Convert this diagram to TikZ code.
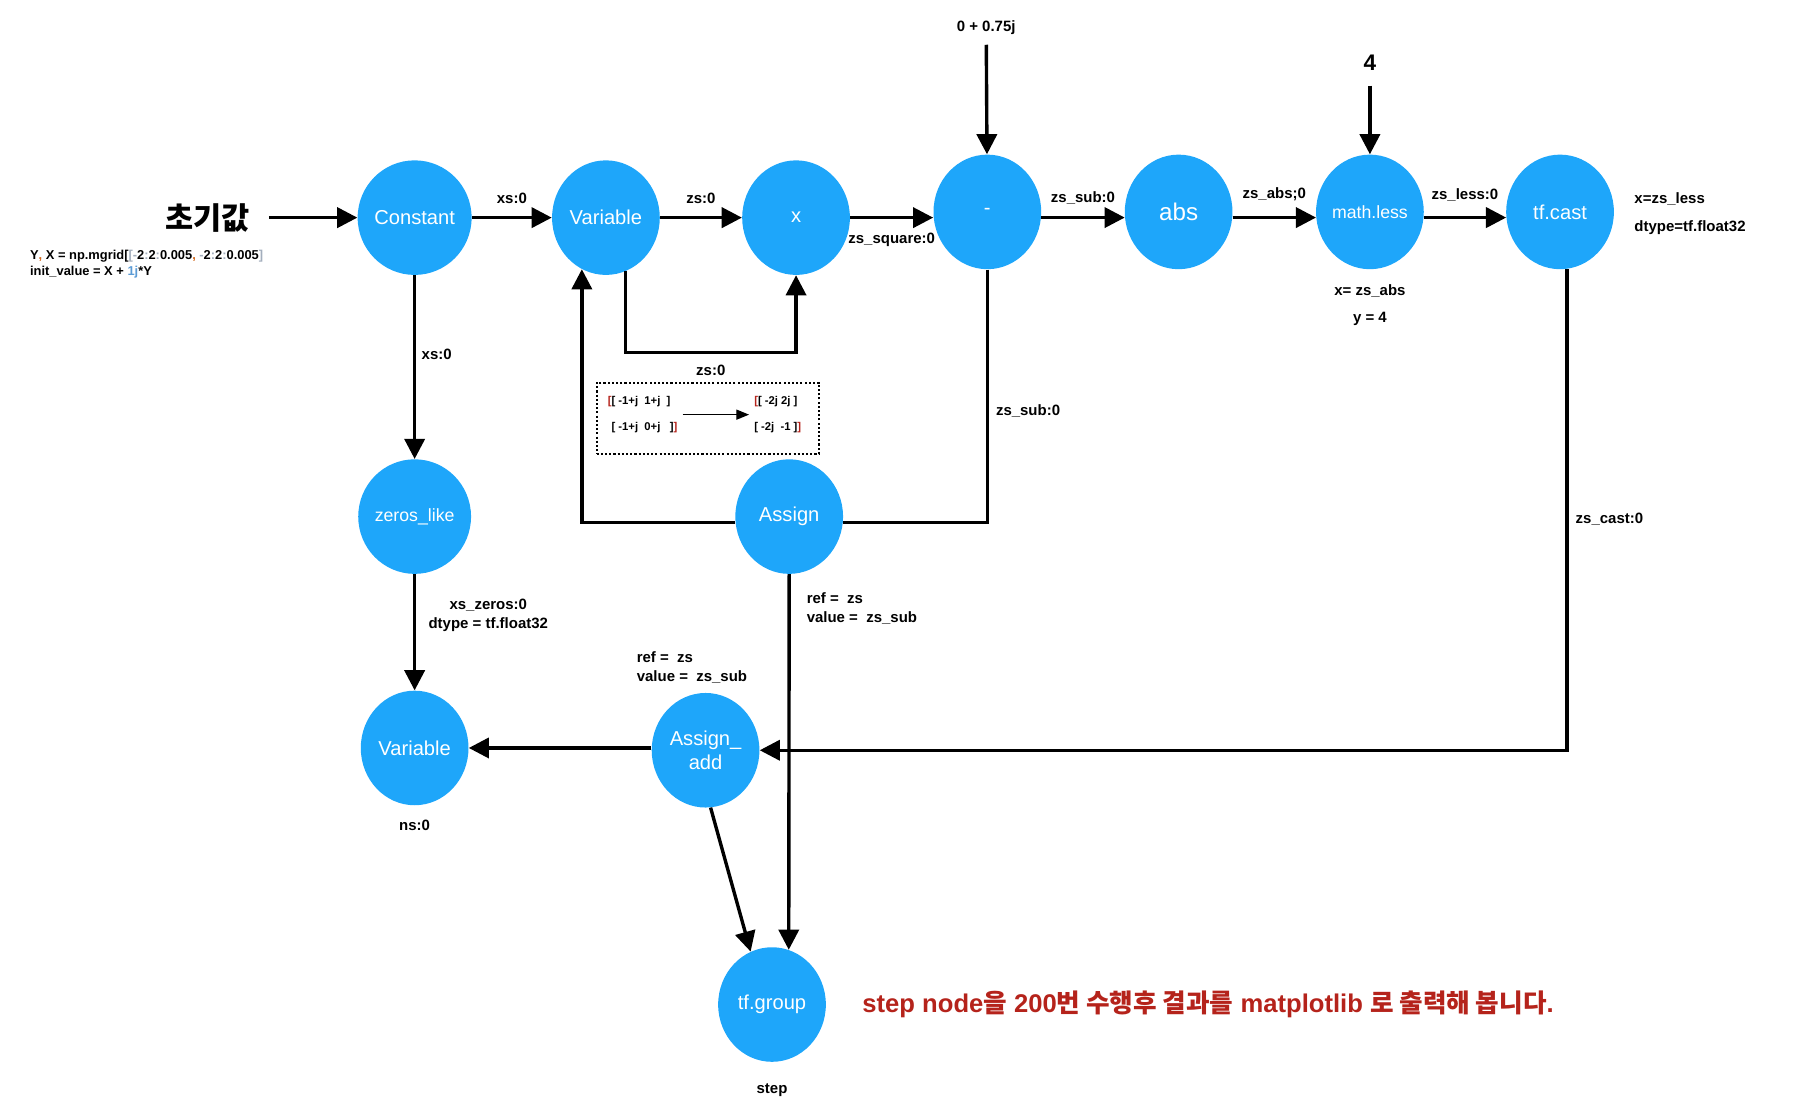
\documentclass[tikz,border=0pt]{standalone}
\usepackage{fontspec}
\setmainfont{Liberation Sans}
\newfontfamily\krfont{Noto Sans CJK KR}
\usepackage{tikz}
\usetikzlibrary{positioning,arrows.meta,shapes.geometric}
\definecolor{OpBlue}{HTML}{1EA6FA}
\definecolor{NoteRed}{HTML}{B5231B}
\definecolor{CodeOrange}{HTML}{D2691E}
\definecolor{CodeGrey}{HTML}{A3AEBD}
\definecolor{CodeBlue}{HTML}{5B9BD5}
\newcommand{\kr}[1]{{\krfont #1}}
\newcommand{\cg}[1]{\textcolor{CodeGrey}{#1}}
\newcommand{\rb}[1]{\textcolor{NoteRed}{#1}}

\begin{document}
\begin{tikzpicture}[x=0.025cm, y=-0.025cm,
  op/.style={ellipse, fill=OpBlue, text=white, inner sep=0pt, minimum width=2.35cm,
    minimum height=2.5cm, align=center, font=\fontsize{12.5}{14.5}\selectfont},
  lbl/.style={font=\bfseries\fontsize{9.3}{11.8}\selectfont},
  flow/.style={line width=2.1pt, -{Triangle[length=0.44cm, width=0.44cm]}},
  wire/.style={line width=2.1pt},
  mat/.style={font=\bfseries\fontsize{7}{16.3}\selectfont, align=left, inner sep=3pt}]
  \useasboundingbox (0,0) rectangle (1568,976);
  \node[font=\krfont\bfseries\fontsize{19}{22}\selectfont] (init) at (181,190) {초기값};
  \node[anchor=west, align=left, inner sep=0pt, font=\bfseries\fontsize{8}{10}\selectfont] (code) at (26,231)
    {Y\textcolor{CodeOrange}{,} X = np.mgrid[\cg{[-}2\cg{:}2\cg{:}0.005\textcolor{CodeOrange}{,} \cg{-}2\cg{:}2\cg{:}0.005\cg{]}\\
     init\_value = X + \textcolor{CodeBlue}{1j}*Y};

  \node[op] (const) at (362,190) {Constant};
  \node[op] (var) at (529,190) {Variable};
  \node[op] (mul) at (695,190) {x};
  \node[op] (sub) at (862,185) {-};
  \node[op, font=\fontsize{15}{17}\selectfont] (abs) at (1029,185) {abs};
  \node[op, font=\fontsize{11}{13}\selectfont] (less) at (1196,185) {math.less};
  \node[op] (cast) at (1362,185) {tf.cast};
  \node[op, font=\fontsize{11}{13}\selectfont] (zeros) at (362,451) {zeros\_like};
  \node[op] (assign) at (689,451) {Assign};
  \node[op] (nsvar) at (362,653) {Variable};
  \node[op] (assignadd) at (616,655) {Assign\_\\add};
  \node[op] (group) at (674,877) {tf.group};

  \node[lbl] (cplx) at (861,24) {0 + 0.75j};
  \node[font=\bfseries\fontsize{14}{16}\selectfont] (four) at (1196,55) {4};
  \node[lbl, below=0.2cm of less] (lessx) {x= zs\_abs};
  \node[lbl, below=0.08cm of lessx] (lessy) {y = 4};
  \node[lbl, anchor=west] (castx) at (1422,174) {x=zs\_less};
  \node[lbl, anchor=west] (castdt) at (1422,199) {dtype=tf.float32};
  \node[lbl, below=0.2cm of nsvar] (nslbl) {ns:0};
  \node[lbl, below=0.35cm of group] (steplbl) {step};
  \node[lbl, align=left, anchor=west] (addargs) at (551,583) {ref =\ \ zs\\value =\ \ zs\_sub};

  \node[draw, dash pattern=on 1.3pt off 1.3pt, line width=1.3pt, minimum width=4.85cm,
    minimum height=1.55cm] (trace) at (618,365) {};
  \node[mat] (before) at (561,362) {\rb{[}[ -1+j\ \ 1+j\ \ ]\\\phantom{[}[ -1+j\ \ 0+j\ \ \ ]\rb{]}};
  \node[mat] (after) at (679,362) {\rb{[}[ -2j 2j ]\\{[} -2j\ \ -1 ]\rb{]}};
  \draw[line width=0.9pt, -{Triangle[length=0.28cm, width=0.22cm]}] (before) -- (after);

  \draw[flow, shorten <=0.3cm] (init) -- (const);
  \draw[flow] (const) -- (var) node[lbl, midway, above=4pt] {xs:0};
  \draw[flow] (var) -- (mul) node[lbl, midway, above=4pt] {zs:0};
  \draw[flow] (mul.east) -- (mul.east -| sub.west) node[lbl, midway, below=5pt] {zs\_square:0};
  \draw[flow] (sub.-6) -- (abs.186) node[lbl, midway, above=4pt] {zs\_sub:0};
  \draw[flow] (abs.-6) -- (less.186) node[lbl, midway, above=6pt] {zs\_abs;0};
  \draw[flow] (less.-6) -- (cast.186) node[lbl, midway, above=6pt] {zs\_less:0};
  \draw[flow, shorten <=0.1cm] (cplx) -- (sub);
  \draw[flow, shorten <=0.2cm] (four) -- (less);

  \draw[flow] (const) -- (zeros) node[lbl, pos=0.43, right] {xs:0};
  \draw[flow] (var.-70) -- ++(0,71) -| node[lbl, pos=0.25, below=3pt] {zs:0} (mul.south);
  \draw[flow] (assign.186) -| (var.-115);
  \draw[wire] (sub.south) |- node[lbl, pos=0.28, right=1pt] {zs\_sub:0} (assign.-6);
  \draw[flow] (zeros) -- (nsvar) node[lbl, pos=0.35, right=0.15cm, align=center] {xs\_zeros:0\\dtype = tf.float32};
  \draw[flow] (assign.south) -- (group.73) node[lbl, pos=0.09, right=0.23cm, align=left] {ref =\ \ zs\\value =\ \ zs\_sub};
  \draw[flow] (nsvar.east -| assignadd.west) -- (nsvar.east);
  \draw[flow] (cast.-83) |- node[lbl, pos=0.26, right=1pt] {zs\_cast:0} (assignadd.east);
  \draw[flow] (assignadd.-85) -- (group.112);

  \node[anchor=west, text=NoteRed, font=\bfseries\fontsize{15.9}{18}\selectfont] (note) at (748,877)
    {step node\kr{을} 200\kr{번 수행후 결과를} matplotlib \kr{로 출력해 봅니다}.};
\end{tikzpicture}
\end{document}
